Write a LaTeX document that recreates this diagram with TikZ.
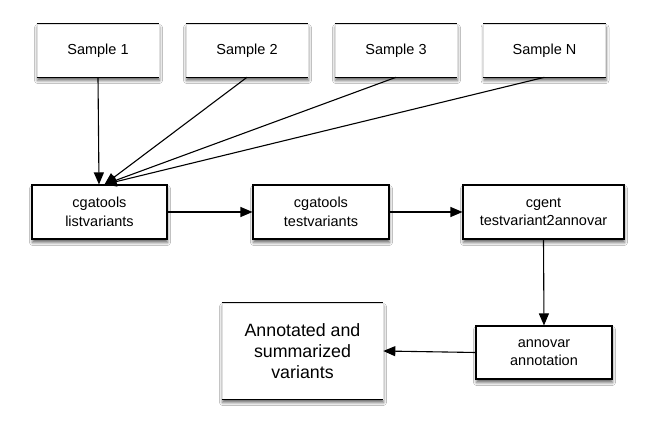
\documentclass[tikz,border=0pt]{standalone}
\usepackage{fontspec}
\setmainfont{Liberation Sans}
\usetikzlibrary{arrows.meta,shadows.blur,calc}
\begin{document}
\begin{tikzpicture}[x=1pt,y=-1pt,
  sh/.style={blur shadow={shadow xshift=0.5pt,shadow yshift=-3.5pt,shadow blur radius=3pt,shadow opacity=60}},
  flowbox/.style={draw=black,line width=1.1pt,fill=white,inner sep=0pt,align=center,
    font=\fontsize{14.5}{18.5}\selectfont,sh},
  samplebox/.style={draw=black!12,line width=0.6pt,fill=white,inner sep=0pt,align=center,
    font=\fontsize{14.5}{18.5}\selectfont,minimum width=122pt,minimum height=53pt,sh,
    append after command={
      (\tikzlastnode.north west) edge[draw=black,line width=1.2pt] (\tikzlastnode.north east)
      (\tikzlastnode.south west) edge[draw=black,line width=1.2pt] (\tikzlastnode.south east)}},
  bigbox/.style={draw=black!12,line width=0.6pt,fill=white,inner sep=0pt,align=center,
    font=\fontsize{17.8}{21}\selectfont,minimum width=161pt,minimum height=96pt,sh,
    append after command={
      (\tikzlastnode.north west) edge[draw=black,line width=1.2pt] (\tikzlastnode.north east)
      (\tikzlastnode.south west) edge[draw=black,line width=1.2pt] (\tikzlastnode.south east)}},
  arr/.style={draw=black,line width=1.1pt,-{Triangle[length=12pt,width=10pt]}}
]
\useasboundingbox[fill=white] (0,0) rectangle (654,435);

\node[samplebox] (s1) at (98,50.5) {Sample 1};
\node[samplebox] (s2) at (247,50.5) {Sample 2};
\node[samplebox] (s3) at (396,50.5) {Sample 3};
\node[samplebox] (sn) at (544.5,50.5) {Sample N};

\node[flowbox,minimum width=135pt,minimum height=54pt] (lv) at (99.5,212) {cgatools\\listvariants};
\node[flowbox,minimum width=136pt,minimum height=54pt] (tv) at (321,212) {cgatools\\testvariants};
\node[flowbox,minimum width=161pt,minimum height=54pt] (cg) at (543.5,212) {cgent\\testvariant2annovar};
\node[flowbox,minimum width=136pt,minimum height=53pt] (an) at (544,352.5) {annovar\\annotation};
\node[bigbox] (res) at (302.5,351) {Annotated and\\summarized\\variants};

\coordinate (c1) at ($(lv.north)+(-0.5pt,0)$);
\coordinate (c2) at ($(lv.north)+(5pt,0)$);

\draw[arr] (s1.south) -- (c1);
\draw[arr] (s2.south) -- (c2);
\draw[arr] (s3.south) -- (c2);
\draw[arr] (sn.south) -- (c2);
\draw[arr] (lv.east) -- (tv.west);
\draw[arr] (tv.east) -- (cg.west);
\draw[arr] (cg.south) -- (an.north);
\draw[arr] (an.west) -- (res.east);
\end{tikzpicture}
\end{document}
